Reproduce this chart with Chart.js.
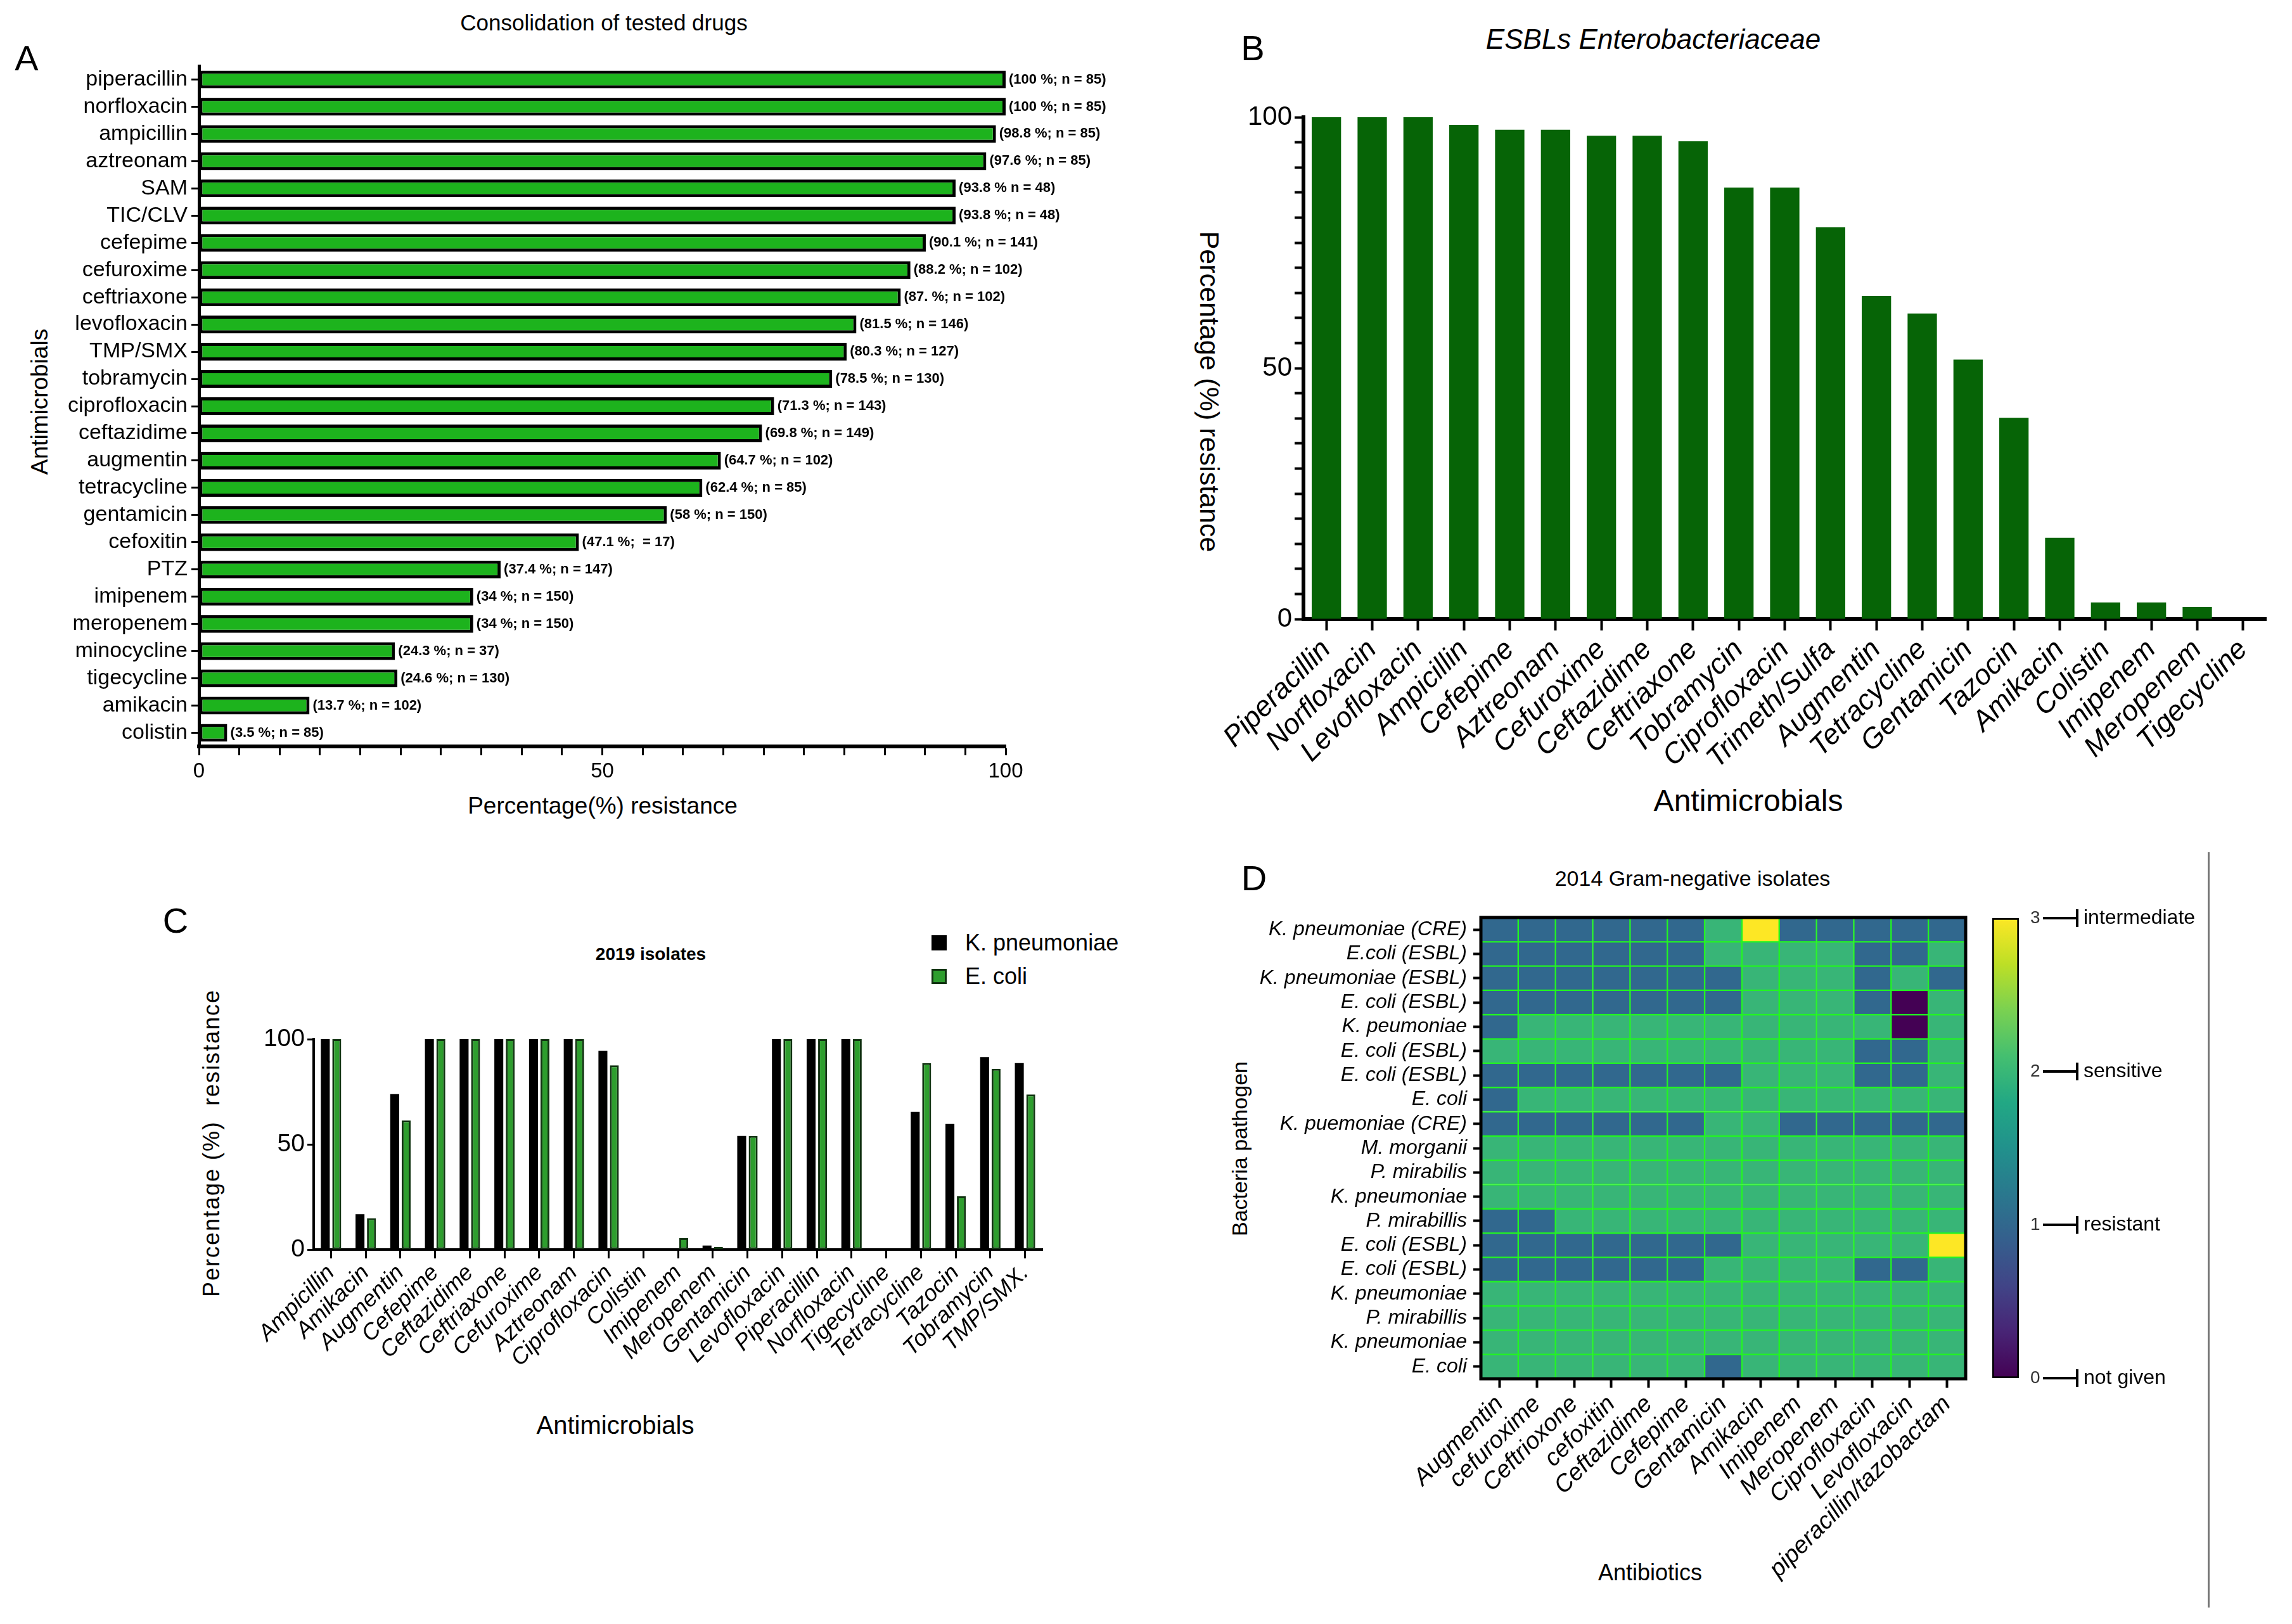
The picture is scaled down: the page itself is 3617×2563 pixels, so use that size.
<!DOCTYPE html>
<html>
<head>
<meta charset="utf-8">
<script src="https://cdn.jsdelivr.net/npm/chart.js@4.4.0/dist/chart.umd.min.js"></script>
<style>
  body { margin: 0; width: 3617px; height: 2563px; background: #fff; position: relative; overflow: hidden;
         font-family: "Liberation Sans", Arial, sans-serif; color: #000; }
  canvas { position: absolute; }
  .t { position: absolute; transform: translate(-50%, -50%); white-space: nowrap; line-height: 1; }
  .rl { transform: translate(-50%, -50%) rotate(-90deg); }
  .rr { transform: translate(-50%, -50%) rotate(90deg); }
  .box { position: absolute; width: 24px; height: 24px; box-sizing: border-box; }
</style>
</head>
<body>
<!-- panel letters -->
<div class="t" style="left:42px;top:92px;font-size:56px">A</div>
<div class="t" style="left:1977px;top:76px;font-size:56px">B</div>
<div class="t" style="left:277px;top:1453px;font-size:56px">C</div>
<div class="t" style="left:1979px;top:1386px;font-size:56px">D</div>

<!-- panel A texts -->
<div class="t" style="left:953px;top:35px;font-size:35px">Consolidation of tested drugs</div>
<div class="t rl" style="left:62px;top:634px;font-size:37px">Antimicrobials</div>
<div class="t" style="left:951px;top:1271px;font-size:37px">Percentage(%) resistance</div>

<!-- panel B texts -->
<div class="t" style="left:2609px;top:62px;font-size:44px;font-style:italic">ESBLs Enterobacteriaceae</div>
<div class="t rr" style="left:1908px;top:618px;font-size:43px">Percentage (%) resistance</div>
<div class="t" style="left:2759px;top:1264px;font-size:48px">Antimicrobials</div>

<!-- panel C texts -->
<div class="t" style="left:1027px;top:1506px;font-size:28px;font-weight:bold">2019 isolates</div>
<div class="box" style="left:1470px;top:1476px;background:#000"></div>
<div class="t" style="left:1523px;top:1488px;font-size:36px;transform:translate(0,-50%)">K. pneumoniae</div>
<div class="box" style="left:1470px;top:1529px;background:#2e9e2e;border:3px solid #113311"></div>
<div class="t" style="left:1523px;top:1541px;font-size:36px;transform:translate(0,-50%)">E. coli</div>
<div class="t rl" style="left:334px;top:1804px;font-size:36px;letter-spacing:2px">Percentage (%)&nbsp; resistance</div>
<div class="t" style="left:971px;top:2249px;font-size:40px">Antimicrobials</div>

<!-- panel D texts -->
<div class="t" style="left:2671px;top:1386px;font-size:34px">2014 Gram-negative isolates</div>
<div class="t rl" style="left:1956px;top:1813px;font-size:34px">Bacteria pathogen</div>
<div class="t" style="left:2604px;top:2482px;font-size:36px">Antibiotics</div>
<div style="position:absolute;left:3484px;top:1345px;width:3px;height:1192px;background:#777"></div>

<canvas id="chartA" width="1800" height="1300" style="left:0;top:0"></canvas>
<canvas id="chartB" width="1767" height="1300" style="left:1850px;top:0"></canvas>
<canvas id="chartC" width="1500" height="1000" style="left:250px;top:1330px"></canvas>
<canvas id="chartD" width="1240" height="1180" style="left:1900px;top:1380px"></canvas>
<canvas id="chartBar" width="360" height="900" style="left:3120px;top:1380px"></canvas>

<script>
// ---- panel A: consolidation of tested drugs ----
const drugsA = ['piperacillin', 'norfloxacin', 'ampicillin', 'aztreonam', 'SAM', 'TIC/CLV', 'cefepime',
  'cefuroxime', 'ceftriaxone', 'levofloxacin', 'TMP/SMX', 'tobramycin', 'ciprofloxacin', 'ceftazidime',
  'augmentin', 'tetracycline', 'gentamicin', 'cefoxitin', 'PTZ', 'imipenem', 'meropenem', 'minocycline',
  'tigecycline', 'amikacin', 'colistin'];
const resistA = [100, 100, 98.8, 97.6, 93.8, 93.8, 90.1, 88.2, 87, 81.5, 80.3, 78.5, 71.3, 69.8,
  64.7, 62.4, 58, 47.1, 37.4, 34, 34, 24.3, 24.6, 13.7, 3.5];
const notesA = ['(100 %; n = 85)', '(100 %; n = 85)', '(98.8 %; n = 85)', '(97.6 %; n = 85)', '(93.8 % n = 48)',
  '(93.8 %; n = 48)', '(90.1 %; n = 141)', '(88.2 %; n = 102)', '(87. %; n = 102)', '(81.5 %; n = 146)',
  '(80.3 %; n = 127)', '(78.5 %; n = 130)', '(71.3 %; n = 143)', '(69.8 %; n = 149)', '(64.7 %; n = 102)',
  '(62.4 %; n = 85)', '(58 %; n = 150)', '(47.1 %;  = 17)', '(37.4 %; n = 147)', '(34 %; n = 150)',
  '(34 %; n = 150)', '(24.3 %; n = 37)', '(24.6 %; n = 130)', '(13.7 %; n = 102)', '(3.5 %; n = 85)'];

// ---- panel B: ESBLs Enterobacteriaceae ----
const drugsB = ['Piperacillin', 'Norfloxacin', 'Levofloxacin', 'Ampicillin', 'Cefepime', 'Aztreonam',
  'Cefuroxime', 'Ceftazidime', 'Ceftriaxone', 'Tobramycin', 'Ciprofloxacin', 'Trimeth/Sulfa', 'Augmentin',
  'Tetracycline', 'Gentamicin', 'Tazocin', 'Amikacin', 'Colistin', 'Imipenem', 'Meropenem', 'Tigecycline'];
const resistB = [100, 100, 100, 98.5, 97.5, 97.5, 96.3, 96.3, 95.2, 86, 86, 78.1, 64.4, 60.9, 51.7,
  40.1, 16.2, 3.3, 3.3, 2.4, 0];

// ---- panel C: 2019 isolates ----
const drugsC = ['Ampicillin', 'Amikacin', 'Augmentin', 'Cefepime', 'Ceftazidime', 'Ceftriaxone', 'Cefuroxime',
  'Aztreonam', 'Ciprofloxacin', 'Colistin', 'Imipenem', 'Meropenem', 'Gentamicin', 'Levofloxacin',
  'Piperacillin', 'Norfloxacin', 'Tigecycline', 'Tetracycline', 'Tazocin', 'Tobramycin', 'TMP/SMX.'];
const kpneu = [100, 16.8, 73.9, 100, 100, 100, 100, 100, 94.4, 0, 0, 1.9, 54, 100, 100, 100, 0, 65.4, 59.7, 91.5, 88.6];
const ecoli = [100, 14.9, 61.4, 100, 100, 100, 100, 100, 87.6, 0, 5.4, 1.2, 54, 100, 100, 100, 0, 88.6, 25.3, 85.9, 73.7];

// ---- panel D: 2014 Gram-negative isolates (0 not given, 1 resistant, 2 sensitive, 3 intermediate) ----
const pathogensD = ['K. pneumoniae (CRE)', 'E.coli (ESBL)', 'K. pneumoniae (ESBL)', 'E. coli (ESBL)',
  'K. peumoniae', 'E. coli (ESBL)', 'E. coli (ESBL)', 'E. coli', 'K. puemoniae (CRE)', 'M. morganii',
  'P. mirabilis', 'K. pneumoniae', 'P. mirabillis', 'E. coli (ESBL)', 'E. coli (ESBL)', 'K. pneumoniae',
  'P. mirabillis', 'K. pneumoniae', 'E. coli'];
const antibioticsD = ['Augmentin', 'cefuroxime', 'Ceftrioxone', 'cefoxitin', 'Ceftazidime', 'Cefepime',
  'Gentamicin', 'Amikacin', 'Imipenem', 'Meropenem', 'Ciprofloxacin', 'Levofloxacin', 'piperacillin/tazobactam'];
const heatMatrix = [
  [1, 1, 1, 1, 1, 1, 2, 3, 1, 1, 1, 1, 1],
  [1, 1, 1, 1, 1, 1, 2, 2, 2, 2, 1, 1, 2],
  [1, 1, 1, 1, 1, 1, 1, 2, 2, 2, 1, 2, 1],
  [1, 1, 1, 1, 1, 1, 1, 2, 2, 2, 1, 0, 2],
  [1, 2, 2, 2, 2, 2, 2, 2, 2, 2, 2, 0, 2],
  [2, 2, 2, 2, 2, 2, 2, 2, 2, 2, 1, 1, 2],
  [1, 1, 1, 1, 1, 1, 1, 2, 2, 2, 1, 1, 2],
  [1, 2, 2, 2, 2, 2, 2, 2, 2, 2, 2, 2, 2],
  [1, 1, 1, 1, 1, 1, 2, 2, 1, 1, 1, 1, 1],
  [2, 2, 2, 2, 2, 2, 2, 2, 2, 2, 2, 2, 2],
  [2, 2, 2, 2, 2, 2, 2, 2, 2, 2, 2, 2, 2],
  [2, 2, 2, 2, 2, 2, 2, 2, 2, 2, 2, 2, 2],
  [1, 1, 2, 2, 2, 2, 2, 2, 2, 2, 2, 2, 2],
  [1, 1, 1, 1, 1, 1, 1, 2, 2, 2, 2, 2, 3],
  [1, 1, 1, 1, 1, 1, 2, 2, 2, 2, 1, 1, 2],
  [2, 2, 2, 2, 2, 2, 2, 2, 2, 2, 2, 2, 2],
  [2, 2, 2, 2, 2, 2, 2, 2, 2, 2, 2, 2, 2],
  [2, 2, 2, 2, 2, 2, 2, 2, 2, 2, 2, 2, 2],
  [2, 2, 2, 2, 2, 2, 1, 2, 2, 2, 2, 2, 2]
];
const stateNames = ['not given', 'resistant', 'sensitive', 'intermediate'];
const stateColors = ['#440154', '#31688e', '#38b577', '#fde725'];
const viridis = ['#440154', '#482475', '#414487', '#355f8d', '#2a788e', '#21918c', '#22a884',
  '#44bf70', '#7ad151', '#bddf26', '#fde725'];

const SANS = '"Liberation Sans", Arial, sans-serif';
Chart.defaults.font.family = SANS;
Chart.defaults.color = '#000';
Chart.defaults.animation = false;
Chart.defaults.plugins.legend.display = false;
Chart.defaults.plugins.tooltip.enabled = false;

// black tick marks, no grid
function ticksOnly(len, width, offset) {
  return { drawOnChartArea: false, offset: offset, tickLength: len, tickWidth: width, tickColor: '#000' };
}

const notesPlugin = {
  id: 'notes',
  afterDatasetsDraw(chart) {
    const ctx = chart.ctx;
    ctx.save();
    ctx.font = 'bold 22px ' + SANS;
    ctx.fillStyle = '#000';
    ctx.textBaseline = 'middle';
    chart.getDatasetMeta(0).data.forEach((bar, i) => ctx.fillText(notesA[i], bar.x + 5, bar.y));
    ctx.restore();
  }
};

new Chart(document.getElementById('chartA'), {
  type: 'bar',
  data: {
    labels: drugsA,
    datasets: [{
      data: resistA,
      backgroundColor: '#1db31d',
      borderColor: '#000',
      borderWidth: 5,
      borderSkipped: false,
      barPercentage: 0.75,
      categoryPercentage: 0.87,
      clip: 10
    }]
  },
  options: {
    indexAxis: 'y',
    responsive: false,
    layout: { padding: { top: 104, right: 213, left: 0, bottom: 0 } },
    scales: {
      x: {
        min: 0, max: 100,
        afterFit: s => { s.height = 122; },
        ticks: { stepSize: 5, autoSkip: false, maxRotation: 0, font: { size: 33 }, padding: 6,
          callback: v => (v % 50 === 0 ? v : '') },
        grid: ticksOnly(14, 3, false),
        border: { color: '#000', width: 6 }
      },
      y: {
        afterFit: s => { s.width = 314; },
        ticks: { font: { size: 34 }, padding: 6, autoSkip: false },
        grid: ticksOnly(12, 3, false),
        border: { color: '#000', width: 5 }
      }
    }
  },
  plugins: [notesPlugin]
});

new Chart(document.getElementById('chartB'), {
  type: 'bar',
  data: {
    labels: drugsB,
    datasets: [{ data: resistB, backgroundColor: '#066406', barPercentage: 0.64, categoryPercentage: 1 }]
  },
  options: {
    responsive: false,
    layout: { padding: { top: 185, right: 41, left: 0, bottom: 0 } },
    scales: {
      x: {
        afterFit: s => { s.height = 323; },
        ticks: { font: { size: 45, style: 'italic' }, minRotation: 45, maxRotation: 45, autoSkip: false, padding: 4 },
        grid: ticksOnly(18, 4, false),
        border: { color: '#000', width: 6 }
      },
      y: {
        min: 0, max: 100,
        afterFit: s => { s.width = 207; },
        ticks: { stepSize: 5, autoSkip: false, font: { size: 42 }, padding: 4,
          callback: v => (v % 50 === 0 ? v : '') },
        grid: ticksOnly(14, 4, false),
        border: { color: '#000', width: 6 }
      }
    }
  }
});

new Chart(document.getElementById('chartC'), {
  type: 'bar',
  data: {
    labels: drugsC,
    datasets: [
      { label: 'K. pneumoniae', data: kpneu, backgroundColor: '#000', barPercentage: 0.78, categoryPercentage: 0.66 },
      { label: 'E. coli', data: ecoli, backgroundColor: '#2e9e2e', borderColor: '#113311', borderWidth: 3,
        borderSkipped: false, barPercentage: 0.78, categoryPercentage: 0.66 }
    ]
  },
  options: {
    responsive: false,
    layout: { padding: { top: 310, right: 105, left: 0, bottom: 0 } },
    scales: {
      x: {
        afterFit: s => { s.height = 358; },
        ticks: { font: { size: 36, style: 'italic' }, minRotation: 45, maxRotation: 45, autoSkip: false, padding: 2 },
        grid: ticksOnly(14, 3, false),
        border: { color: '#000', width: 4 }
      },
      y: {
        min: 0, max: 100,
        afterFit: s => { s.width = 245; },
        ticks: { stepSize: 50, font: { size: 39 }, padding: 4 },
        grid: ticksOnly(10, 3, false),
        border: { color: '#000', width: 4 }
      }
    }
  }
});

const framePlugin = {
  id: 'frame',
  afterDraw(chart) {
    const a = chart.chartArea;
    const ctx = chart.ctx;
    ctx.save();
    ctx.strokeStyle = '#000';
    ctx.lineWidth = 5;
    ctx.strokeRect(a.left, a.top, a.right - a.left, a.bottom - a.top);
    ctx.restore();
  }
};

new Chart(document.getElementById('chartD'), {
  type: 'bar',
  data: {
    labels: pathogensD,
    datasets: antibioticsD.map((name, c) => ({
      label: name,
      data: pathogensD.map(() => [c, c + 1]),
      backgroundColor: heatMatrix.map(row => stateColors[row[c]]),
      borderColor: '#22f522',
      borderWidth: 1.5,
      borderSkipped: false,
      barPercentage: 1,
      categoryPercentage: 1,
      grouped: false
    }))
  },
  options: {
    indexAxis: 'y',
    responsive: false,
    layout: { padding: { top: 68, right: 38, left: 0, bottom: 0 } },
    scales: {
      x: {
        type: 'linear', min: 0, max: antibioticsD.length,
        afterBuildTicks: s => { s.ticks = antibioticsD.map((_, i) => ({ value: i + 0.5 })); },
        afterFit: s => { s.height = 384; },
        ticks: { font: { size: 38, style: 'italic' }, minRotation: 45, maxRotation: 45, autoSkip: false, padding: 4,
          callback: (v, i) => antibioticsD[i] },
        grid: ticksOnly(14, 4, false),
        border: { color: '#000', width: 4 }
      },
      y: {
        afterFit: s => { s.width = 437; },
        ticks: { font: { size: 32, style: 'italic' }, padding: 10, autoSkip: false },
        grid: ticksOnly(12, 4, false),
        border: { color: '#000', width: 4 }
      }
    }
  },
  plugins: [framePlugin]
});

const stateLabels = {
  id: 'stateLabels',
  afterDraw(chart) {
    const ctx = chart.ctx;
    const y = chart.scales.y;
    const x0 = chart.chartArea.right;
    ctx.save();
    ctx.strokeStyle = '#000';
    ctx.fillStyle = '#000';
    ctx.lineWidth = 4;
    ctx.font = '32px ' + SANS;
    ctx.textBaseline = 'middle';
    stateNames.forEach((name, v) => {
      const py = y.getPixelForValue(v);
      ctx.beginPath();
      ctx.moveTo(x0 + 38, py);
      ctx.lineTo(x0 + 92, py);
      ctx.moveTo(x0 + 92, py - 14);
      ctx.lineTo(x0 + 92, py + 14);
      ctx.stroke();
      ctx.fillText(name, x0 + 102, py);
    });
    ctx.restore();
  }
};

new Chart(document.getElementById('chartBar'), {
  type: 'bar',
  data: {
    labels: [''],
    datasets: [{
      data: [[0, 3]],
      backgroundColor: ctx => {
        const a = ctx.chart.chartArea;
        if (!a) return viridis[5];
        const g = ctx.chart.ctx.createLinearGradient(0, a.bottom, 0, a.top);
        viridis.forEach((c, i) => g.addColorStop(i / (viridis.length - 1), c));
        return g;
      },
      borderColor: '#000',
      borderWidth: 3,
      borderSkipped: false,
      barPercentage: 1,
      categoryPercentage: 1
    }]
  },
  options: {
    responsive: false,
    layout: { padding: { top: 69, bottom: 105, left: 24, right: 0 } },
    scales: {
      x: { display: false },
      y: {
        position: 'right', min: 0, max: 3,
        afterFit: s => { s.width = 294; },
        ticks: { stepSize: 1, font: { size: 28 }, color: '#333', padding: 18 },
        grid: { display: false, drawTicks: false },
        border: { display: false }
      }
    }
  },
  plugins: [stateLabels]
});
</script>
</body>
</html>
